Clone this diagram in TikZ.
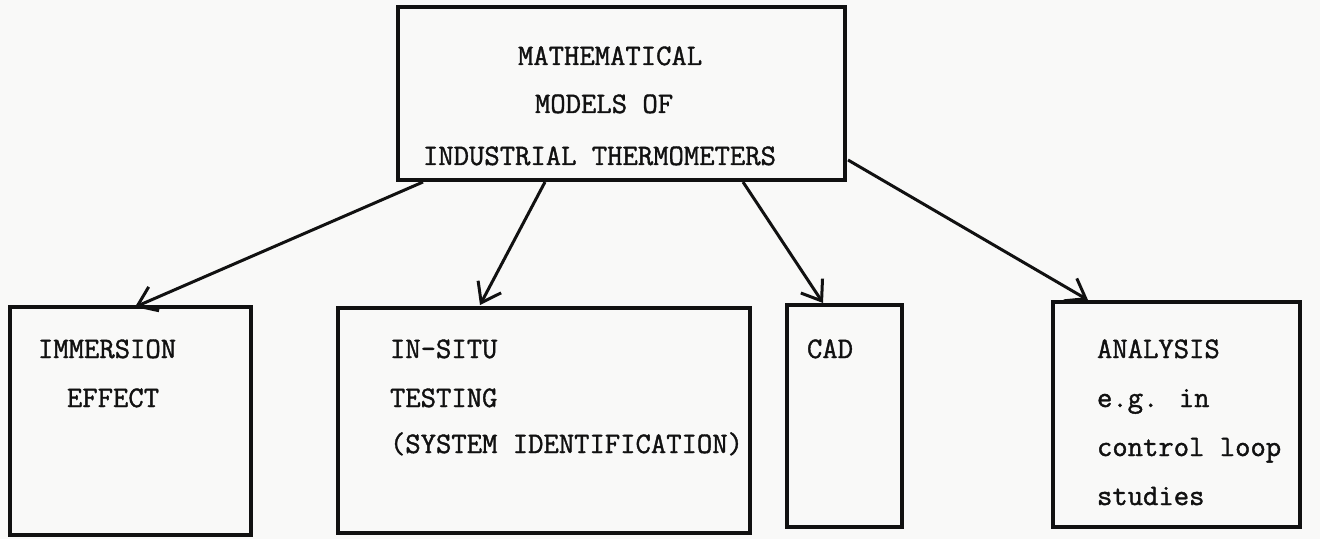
\documentclass[tikz,border=0pt]{standalone}
\usepackage{fontspec}
\newfontfamily\typewr[FakeBold=1.3]{Latin Modern Mono}
\usetikzlibrary{arrows.meta,calc}
\definecolor{paper}{HTML}{F9F9F8}
\definecolor{ink}{HTML}{111111}
\tikzset{
  box/.style={draw=ink, line width=1.6pt, rectangle, inner sep=0pt, outer sep=0pt},
  lbl/.style={anchor=base west, inner sep=0pt, outer sep=0pt, text=ink,
              font=\fontsize{14.9}{18}\selectfont\typewr},
  link/.style={draw=ink, line width=1.5pt,
               -{Straight Barb[length=9pt,width=13pt,line width=1.5pt]}}
}
\begin{document}
\begin{tikzpicture}[x=0.5pt,y=-0.5pt]
\fill[paper] (0,0) rectangle (1320,539);
\useasboundingbox (0,0) rectangle (1320,539);

% boxes
\node[box, minimum width=223.5pt, minimum height=86.5pt] (top) at (621.5,93.5) {};
\node[box, minimum width=120.5pt, minimum height=114pt] (b1) at (130.5,421) {};
\node[box, minimum width=206pt, minimum height=112.5pt] (b2) at (544,420.5) {};
\node[box, minimum width=57.5pt, minimum height=111pt] (b3) at (844.5,416) {};
\node[box, minimum width=123.5pt, minimum height=112.5pt] (b4) at (1176.5,414.5) {};

% texts
\node[lbl] (t1) at (518,65) {MATHEMATICAL};
\node[lbl] (t2) at (535,113) {MODELS OF};
\node[lbl] (t3) at (423,165) {INDUSTRIAL THERMOMETERS};

\node[lbl] (i1) at (38,358) {IMMERSION};
\node[lbl] (i2) at (67,407) {EFFECT};

\node[lbl] (s1) at (390,358) {IN-SITU};
\node[lbl] (s2) at (390,407) {TESTING};
\node[lbl] (s3) at (390,453) {(SYSTEM IDENTIFICATION)};

\node[lbl] (c1) at (807,358) {CAD};

\node[lbl] (a1) at (1097,358) {ANALYSIS};
\node[lbl] (a2) at (1097,407) {e.g. in};
\node[lbl] (a3) at (1097,456) {control loop};
\node[lbl] (a4) at (1097,505) {studies};

% connectors
\coordinate (o1) at ($(top.south west)+(25,2)$);
\coordinate (o2) at ($(top.south west)+(147,2)$);
\coordinate (o3) at ($(top.south west)+(345,2)$);
\coordinate (o4) at ($(top.south east)+(3,-20)$);
\coordinate (e1) at ($(b1.north west)+(125,0)$);
\coordinate (e2) at ($(b2.north west)+(142,-3)$);
\coordinate (e3) at ($(b3.north west)+(36,-2)$);
\coordinate (e4) at ($(b4.north west)+(35,-2)$);
\draw[link] (o1) -- (e1);
\draw[link] (o2) -- (e2);
\draw[link] (o3) -- (e3);
\draw[link] (o4) -- (e4);
\end{tikzpicture}
\end{document}
